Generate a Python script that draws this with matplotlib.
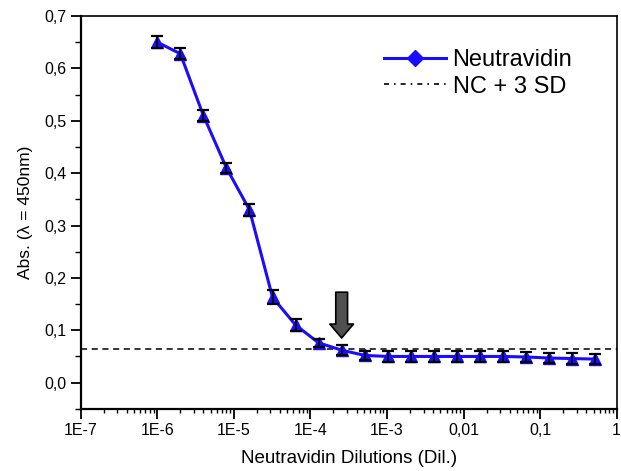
import matplotlib.pyplot as plt
from matplotlib.lines import Line2D
import numpy as np

plt.rcParams["font.family"] = ["Liberation Sans", "DejaVu Sans"]

# serial two-fold dilutions starting at 1E-6
dilutions = [1e-6, 2e-6, 4e-6, 8e-6, 1.6e-5, 3.2e-5, 6.4e-5, 1.28e-4, 2.56e-4,
             5.12e-4, 1.024e-3, 2.048e-3, 4.096e-3, 8.192e-3, 1.6384e-2,
             3.2768e-2, 6.5536e-2, 0.131072, 0.262144, 0.524288]
absorbance = [0.650, 0.628, 0.510, 0.410, 0.330, 0.163, 0.110, 0.076, 0.062,
              0.052, 0.050, 0.050, 0.050, 0.050, 0.050, 0.050, 0.049, 0.047,
              0.046, 0.045]
errors = [0.012, 0.010, 0.011, 0.010, 0.011, 0.013, 0.011, 0.008, 0.009,
          0.009, 0.010, 0.010, 0.010, 0.010, 0.010, 0.010, 0.010, 0.010,
          0.010, 0.010]
cutoff = 0.065
arrow_idx = 8

xticks = [1e-7, 1e-6, 1e-5, 1e-4, 1e-3, 1e-2, 1e-1, 1]
xticklabels = ["1E-7", "1E-6", "1E-5", "1E-4", "1E-3", "0,01", "0,1", "1"]
yticks = [0.0, 0.1, 0.2, 0.3, 0.4, 0.5, 0.6, 0.7]
yticklabels = ["0,0", "0,1", "0,2", "0,3", "0,4", "0,5", "0,6", "0,7"]

fig = plt.figure(figsize=(6.21, 4.71), dpi=100)
ax = fig.add_axes([0.130, 0.132, 0.863, 0.834])

ax.axhline(cutoff, color="black", linestyle=(0, (4, 3)), linewidth=1.1, zorder=1)
ax.plot(dilutions, absorbance, color="#1a0dff", linewidth=2.2, marker="^",
        markersize=8, markeredgecolor="#1a0dff", zorder=3)
ax.errorbar(dilutions, absorbance, yerr=errors, fmt="none", ecolor="black",
            elinewidth=1.3, capsize=4, capthick=1.6, zorder=4)

ax.annotate("", xy=(dilutions[arrow_idx], 0.080),
            xytext=(dilutions[arrow_idx], 0.178),
            arrowprops=dict(arrowstyle="simple,head_width=1.7,head_length=1.0,tail_width=0.85",
                            fc="#505050", ec="black", lw=1.2))

ax.set_xscale("log")
ax.set_xlim(1e-7, 1)
ax.set_ylim(-0.05, 0.7)
ax.set_xticks(xticks)
ax.set_xticklabels(xticklabels)
ax.set_yticks(yticks)
ax.set_yticklabels(yticklabels)
ax.set_yticks(np.arange(-0.05, 0.7, 0.1), minor=True)
ax.tick_params(which="major", direction="out", length=7, width=1.3, labelsize=11.5)
ax.tick_params(which="minor", direction="out", length=4, width=1.0)
ax.tick_params(axis="x", which="minor", length=3)

for side in ["left", "bottom"]:
    ax.spines[side].set_linewidth(1.6)
for side in ["top", "right"]:
    ax.spines[side].set_linewidth(1.2)

ax.set_xlabel("Neutravidin Dilutions (Dil.)", fontsize=13.5, labelpad=8)
ax.set_ylabel("Abs. (λ = 450nm)", fontsize=12.5, labelpad=8)

handles = [
    Line2D([], [], color="#1a0dff", linewidth=2.2, marker="D", markersize=8),
    Line2D([], [], color="black", linewidth=1.2, linestyle=(0, (3, 3, 1, 3))),
]
ax.legend(handles, ["Neutravidin", "NC + 3 SD"], loc="upper right",
          bbox_to_anchor=(0.935, 0.94), frameon=False, fontsize=17,
          handlelength=2.6, handletextpad=0.3, labelspacing=0.2, borderaxespad=0)

fig.savefig("out.png", dpi=100)
